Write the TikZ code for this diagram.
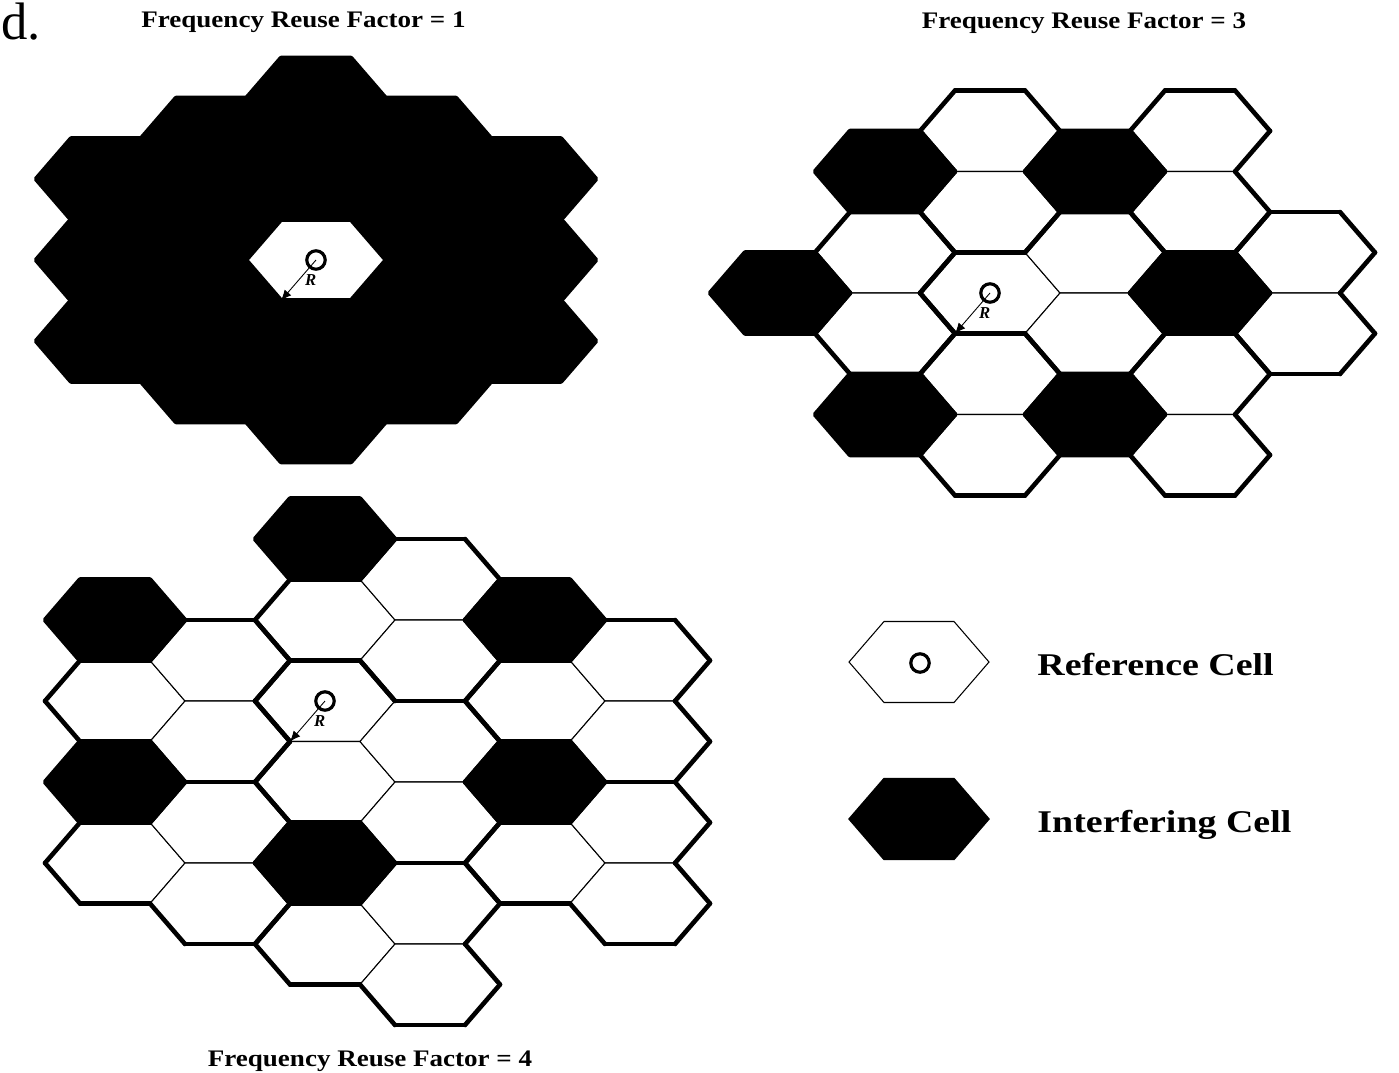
\documentclass[tikz,border=0pt]{standalone}
\usepackage{fontspec}
\setmainfont{Liberation Serif}
\usetikzlibrary{arrows.meta, calc}
\tikzset{
  whitecell/.style={draw=black, fill=white, line width=0.6pt},
  blackcell/.style={draw=black, fill=black, line width=2.6pt, line join=round},
  keyblack/.style={draw=black, fill=black, line width=0.8pt},
  rim/.style={draw=black, line width=2.6pt, line cap=round},
  bsmark/.style={circle, draw=black, line width=1.8pt, inner sep=0pt, minimum size=10.5pt},
  radarrow/.style={-{Latex[length=6pt, width=5pt]}, line width=0.5pt},
  rlabel/.style={font=\fontsize{9.5}{11}\selectfont\bfseries\itshape, inner sep=0.5pt},
  titletext/.style={font=\fontsize{13.5}{16}\selectfont\bfseries, xscale=1.14, inner sep=0pt},
  legendtext/.style={font=\fontsize{18}{22}\selectfont\bfseries, xscale=1.2, inner sep=0pt}
}
% one flat hexagon, centre (#2,#3)
\newcommand{\hexcell}[3][whitecell]{%
  \draw[#1] (#2+70,#3) -- (#2+35,#3+40.5) -- (#2-35,#3+40.5) -- (#2-70,#3)
    -- (#2-35,#3-40.5) -- (#2+35,#3-40.5) -- cycle;}
% heavy sides of a hexagon: 0 lower right, 1 bottom, 2 lower left, 3 upper left, 4 top, 5 upper right
\newcommand{\hexrim}[3]{%
  \foreach \e in {#3}
    \draw[rim] ($(#1,#2)+(60*\e:70 and 46.77)$) -- ($(#1,#2)+(60*\e+60:70 and 46.77)$);}

\begin{document}
\begin{tikzpicture}[x=0.02cm, y=-0.02cm]
  \useasboundingbox (0,0) rectangle (1399,1072);

  \node[anchor=base west, inner sep=0pt, font=\fontsize{30}{34}\selectfont] (panel) at (1,39) {d.};

  % reuse factor 1
  \node[titletext, anchor=base] (title1) at (303.5,27) {Frequency Reuse Factor = 1};
  \hexcell{316}{260}
  \foreach \cy in {98.5,179,341,421.5} {\hexcell[blackcell]{316}{\cy}}
  \foreach \cx in {211,421} {\foreach \cy in {138.5,219.5,300.5,381.5} {\hexcell[blackcell]{\cx}{\cy}}}
  \foreach \cx in {106,526} {\foreach \cy in {179,260,341} {\hexcell[blackcell]{\cx}{\cy}}}
  \node[bsmark] (bs1) at (316,260) {};
  \coordinate (v1) at (281,300.5);
  \draw[radarrow] (bs1.center) -- (v1) node[midway, right=3pt, rlabel] (r1) {R};

  % reuse factor 3
  \node[titletext, anchor=base] (title3) at (1084,28) {Frequency Reuse Factor = 3};
  \foreach \cx/\cy in {990/131,990/212,990/293,990/374,990/455,885/252.5,885/333.5,
      1095/252.5,1095/333.5,1200/131,1200/212,1200/374,1200/455,1305/252.5,1305/333.5}
    {\hexcell{\cx}{\cy}}
  \hexrim{990}{131}{0,2,3,4,5}
  \hexrim{990}{212}{0,1,2,3,5}
  \hexrim{990}{293}{1,2,3,4}
  \hexrim{990}{374}{0,2,3,4,5}
  \hexrim{990}{455}{0,1,2,3,5}
  \hexrim{885}{252.5}{0,2,3,4,5}
  \hexrim{885}{333.5}{0,1,2,3,5}
  \hexrim{1095}{252.5}{0,3,4,5}
  \hexrim{1095}{333.5}{0,1,2,5}
  \hexrim{1200}{131}{0,2,3,4,5}
  \hexrim{1200}{212}{0,1,2,3,5}
  \hexrim{1200}{374}{0,2,3,4,5}
  \hexrim{1200}{455}{0,1,2,3,5}
  \hexrim{1305}{252.5}{0,2,3,4,5}
  \hexrim{1305}{333.5}{0,1,2,3,5}
  \foreach \cx/\cy in {885/171.5,1095/171.5,780/293,1200/293,885/414.5,1095/414.5}
    {\hexcell[blackcell]{\cx}{\cy}}
  \node[bsmark] (bs3) at (990,293) {};
  \coordinate (v3) at (955,333.5);
  \draw[radarrow] (bs3.center) -- (v3) node[midway, right=3pt, rlabel] (r3) {R};

  % reuse factor 4
  \node[titletext, anchor=base] (title4) at (370,1066) {Frequency Reuse Factor = 4};
  \foreach \cx/\cy in {115/701,115/863,220/660.5,220/741.5,220/822.5,220/903.5,
      325/620,325/701,325/782,325/944,430/579.5,430/660.5,430/741.5,430/822.5,
      430/903.5,430/984.5,535/701,535/863,640/660.5,640/741.5,640/822.5,640/903.5}
    {\hexcell{\cx}{\cy}}
  \hexrim{115}{701}{1,2,3,4}
  \hexrim{115}{863}{1,2,3,4}
  \hexrim{220}{660.5}{0,3,4,5}
  \hexrim{220}{741.5}{0,1,2,5}
  \hexrim{220}{822.5}{0,3,4,5}
  \hexrim{220}{903.5}{0,1,2,5}
  \hexrim{325}{620}{1,2,3,4}
  \hexrim{325}{701}{2,3,4,5}
  \hexrim{325}{782}{1,2,3}
  \hexrim{325}{944}{1,2,3,4}
  \hexrim{430}{579.5}{0,3,4,5}
  \hexrim{430}{660.5}{0,1,2,5}
  \hexrim{430}{741.5}{0,4,5}
  \hexrim{430}{822.5}{0,1,2,5}
  \hexrim{430}{903.5}{0,3,4,5}
  \hexrim{430}{984.5}{0,1,2,5}
  \hexrim{535}{701}{1,2,3,4}
  \hexrim{535}{863}{1,2,3,4}
  \hexrim{640}{660.5}{0,3,4,5}
  \hexrim{640}{741.5}{0,1,2,5}
  \hexrim{640}{822.5}{0,3,4,5}
  \hexrim{640}{903.5}{0,1,2,5}
  \foreach \cx/\cy in {115/620,115/782,325/539,325/863,535/620,535/782}
    {\hexcell[blackcell]{\cx}{\cy}}
  \node[bsmark] (bs4) at (325,701) {};
  \coordinate (v4) at (290,741.5);
  \draw[radarrow] (bs4.center) -- (v4) node[midway, right=3pt, rlabel] (r4) {R};

  % legend
  \hexcell{919}{662}
  \node[bsmark] (bskey) at (920,663) {};
  \node[legendtext, anchor=base west] (reftext) at (1037,675) {Reference Cell};
  \hexcell[keyblack]{919}{819}
  \node[legendtext, anchor=base west] (inftext) at (1037,832) {Interfering Cell};
\end{tikzpicture}
\end{document}
